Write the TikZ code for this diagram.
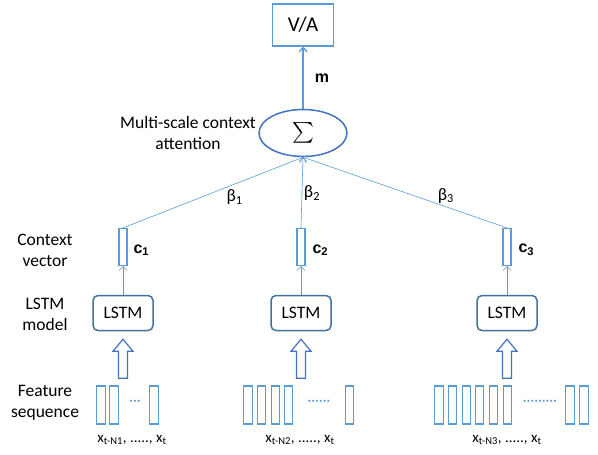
\documentclass[tikz,border=0pt]{standalone}
\usepackage{amsmath}
\usepackage{fontspec}
\setmainfont{Carlito}
\newfontfamily\headfont{Liberation Sans}
\usetikzlibrary{positioning,arrows.meta,shapes.geometric}
\definecolor{boxblue}{RGB}{91,155,213}
\definecolor{lstmblue}{RGB}{65,113,156}
\definecolor{ringblue}{RGB}{68,114,196}

\begin{document}
\begin{tikzpicture}[x=1pt,y=-1pt,on grid,
	txt/.style={font=\fontsize{17.5}{21}\selectfont,align=center},
	outbox/.style={draw=boxblue,line width=1.5pt,minimum width=61pt,minimum height=42pt,inner sep=0pt,font=\fontsize{21}{24}\selectfont},
	attn/.style={ellipse,draw=ringblue,line width=1.5pt,minimum width=88pt,minimum height=47pt,inner sep=0pt,font=\fontsize{20}{24}\selectfont},
	lstm/.style={draw=lstmblue,rounded corners=5pt,line width=1.5pt,minimum width=60pt,minimum height=35pt,inner sep=0pt,font=\fontsize{17.5}{21}\selectfont},
	cvec/.style={draw=boxblue,line width=1.2pt,minimum width=8pt,minimum height=37pt,inner sep=0pt},
	feat/.style={draw=boxblue,line width=1.2pt,minimum width=8.5pt,minimum height=38pt,inner sep=0pt},
	feed/.style={draw=ringblue,line width=1.2pt,line join=miter},
	link/.style={draw=boxblue,line width=0.6pt,-{Straight Barb[length=4pt,width=8pt]}},
	clab/.style={font=\headfont\bfseries\fontsize{16}{19}\selectfont,anchor=west},
	dots/.style={text=boxblue,font=\fontsize{15}{18}\selectfont,inner sep=0pt}]
	\useasboundingbox (0,0) rectangle (598,455);
	% output and attention
	\node[outbox] (va) at (303,25) {V/A};
	\node[attn] (sig) at (303,133) {$\sum$};
	\node[txt] (attxt) at (188,133) {Multi-scale context\\attention};
	% side labels
	\node[txt] (cvtxt) at (45,250) {Context\\vector};
	\node[txt] (lmtxt) at (45,314) {LSTM\\model};
	\node[txt] (fstxt) at (45,403) {Feature\\sequence};
	% lstm branches
	\node[lstm] (l1) at (123,313) {LSTM};
	\node[lstm] (l2) at (301,313) {LSTM};
	\node[lstm] (l3) at (507,313) {LSTM};
	\node[cvec,above=66pt of l1] (c1) {};
	\node[cvec,above=66pt of l2] (c2) {};
	\node[cvec,above=66pt of l3] (c3) {};
	\node[clab] (c1lab) at (130,250) {c\textsubscript{1}};
	\node[clab] (c2lab) at (309,250) {c\textsubscript{2}};
	\node[clab] (c3lab) at (515,250) {c\textsubscript{3}};
	\coordinate[below=8pt of l1.south] (in1);
	\coordinate[below=8pt of l2.south] (in2);
	\coordinate[below=8pt of l3.south] (in3);
	% feature bars
	\foreach \i/\x in {1/101,2/114,3/154}
		\node[feat] (fa\i) at (\x,405) {};
	\foreach \i/\x in {1/248,2/261.5,3/275.5,4/288.5,5/349.5}
		\node[feat] (fb\i) at (\x,405) {};
	\foreach \i/\x in {1/439,2/452.5,3/466.5,4/479.5,5/493.5,6/507.5,7/570,8/584}
		\node[feat] (fc\i) at (\x,405) {};
	\node[dots] (da) at (135,403) {\textperiodcentered\textperiodcentered\textperiodcentered};
	\node[dots] (db) at (319,403) {\textperiodcentered\textperiodcentered\textperiodcentered\textperiodcentered\textperiodcentered\textperiodcentered};
	\node[dots] (dc) at (540,403) {\textperiodcentered\textperiodcentered\textperiodcentered\textperiodcentered\textperiodcentered\textperiodcentered\textperiodcentered\textperiodcentered\textperiodcentered};
	\node[txt,font=\fontsize{15}{18}\selectfont] (xa) at (132,440) {x\textsubscript{t-N1}, ....., x\textsubscript{t}};
	\node[txt,font=\fontsize{15}{18}\selectfont] (xb) at (300,440) {x\textsubscript{t-N2}, ....., x\textsubscript{t}};
	\node[txt,font=\fontsize{15}{18}\selectfont] (xc) at (507,440) {x\textsubscript{t-N3}, ....., x\textsubscript{t}};
	% block arrows into the lstm
	\foreach \n in {in1,in2,in3}
		\draw[feed] (\n) -- ++(10,12) -- ++(-5.5,0) -- ++(0,27) -- ++(-9,0) -- ++(0,-27) -- ++(-5.5,0) -- cycle;
	% connectors
	\draw[link,line width=1.3pt] (sig) -- node[right=8pt,font=\headfont\bfseries\fontsize{16}{19}\selectfont] {m} (va);
	\draw[link] (c1.north) -- node[pos=0.62,yshift=-13pt,txt] {β\textsubscript{1}} (sig.south);
	\draw[link] (c2.north) -- node[pos=0.49,xshift=10pt,txt] {β\textsubscript{2}} (sig.south);
	\draw[link] (c3.north) -- node[pos=0.3,yshift=11pt,txt] {β\textsubscript{3}} (sig.south);
	\draw[link] (l1) -- (c1);
	\draw[link] (l2) -- (c2);
	\draw[link] (l3) -- (c3);
\end{tikzpicture}
\end{document}
